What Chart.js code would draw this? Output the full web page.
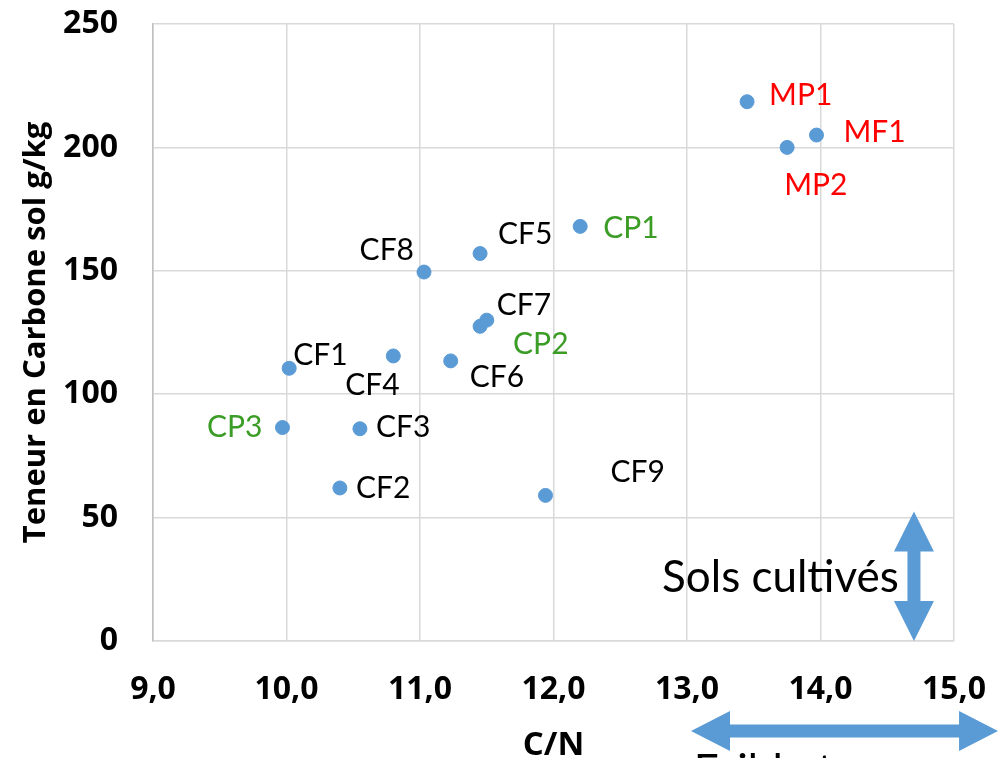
<!DOCTYPE html>
<html>
<head>
<meta charset="utf-8">
<script src="https://cdn.jsdelivr.net/npm/chart.js@4"></script>
<style>
    html, body { margin: 0; padding: 0; background: #fff; }
    #wrap { width: 998px; height: 758px; }
</style>
</head>
<body>
<div id="wrap"><canvas id="chart" width="998" height="758"></canvas></div>
<script>
// sample names, C/N ratio and soil carbon (g/kg)
const names = ["MP1", "MF1", "MP2", "CP1", "CF5", "CF8", "CF7", "CP2", "CF4", "CF6", "CF1", "CP3", "CF3", "CF2", "CF9"];
const cnValues = [13.45, 13.97, 13.75, 12.20, 11.45, 11.03, 11.50, 11.45, 10.80, 11.23, 10.02, 9.97, 10.55, 10.40, 11.94];
const carbonValues = [218.5, 205, 200, 168, 157, 149.5, 130, 127.5, 115.5, 113.5, 110.5, 86.5, 86, 62, 59];
const groups = ["M", "M", "M", "CP", "CF", "CF", "CF", "CP", "CF", "CF", "CF", "CP", "CF", "CF", "CF"];

const xTicks = [9, 10, 11, 12, 13, 14, 15];
const yTicks = [0, 50, 100, 150, 200, 250];

const xTitle = "C/N";
const yTitle = "Teneur en Carbone sol g/kg";
const verticalNote = "Sols cultivés";
const horizontalNote = "Faible teneur en carbone";

// colours of the labels per group
const groupColors = { M: "#ff0000", CP: "#3b9c26", CF: "#000000" };
const pointColor = "#5b9bd5";
const gridColor = "#d9d9d9";

// where each label sits relative to its point (px), and its alignment
const labelOffsets = {
    MP1: [22, -6, "left"], MF1: [27, -3, "left"], MP2: [-3, 38, "left"],
    CP1: [23, 2, "left"], CF5: [18, -19, "left"], CF8: [-10, -22, "right"],
    CF7: [10, -15, "left"], CP2: [33, 18, "left"], CF4: [-48, 29, "left"],
    CF6: [19, 16, "left"], CF1: [4, -13, "left"], CP3: [-20, 0, "right"],
    CF3: [16, -1, "left"], CF2: [16, 0, "left"], CF9: [65, -23, "left"]
};

const points = cnValues.map((x, i) => ({ x: x, y: carbonValues[i] }));
const labelFont = "Lato, 'Open Sans', sans-serif";
const axisFont = "'Open Sans', Lato, sans-serif";

// point labels and the two blue arrows
const annotations = {
    id: "annotations",
    afterDatasetsDraw(chart) {
        const ctx = chart.ctx;
        const xs = chart.scales.x;
        const ys = chart.scales.y;
        const meta = chart.getDatasetMeta(0);
        ctx.save();
        ctx.font = "30px " + labelFont;
        ctx.textBaseline = "middle";
        meta.data.forEach((pt, i) => {
            const off = labelOffsets[names[i]];
            ctx.fillStyle = groupColors[groups[i]];
            ctx.textAlign = off[2];
            ctx.fillText(names[i], pt.x + off[0], pt.y + off[1]);
        });

        ctx.fillStyle = pointColor;
        // vertical double arrow (cultivated soils range)
        const vx = xs.getPixelForValue(14.7);
        const vTop = ys.getPixelForValue(52.5);
        const vBot = ys.getPixelForValue(0);
        drawArrow(ctx, vx, vTop, vx, vBot, 13, 40, 40);

        // horizontal double arrow below the axis
        const hy = chart.chartArea.bottom + 90;
        drawArrow(ctx, xs.getPixelForValue(13.03), hy, xs.getPixelForValue(15.33), hy, 13, 40, 39);

        ctx.fillStyle = "#000";
        ctx.font = "44px " + labelFont;
        ctx.textAlign = "center";
        ctx.fillText(verticalNote, xs.getPixelForValue(13.7), ys.getPixelForValue(25.5));
        ctx.textAlign = "left";
        ctx.textBaseline = "alphabetic";
        ctx.fillText(horizontalNote, xs.getPixelForValue(13.05), chart.chartArea.bottom + 145);
        ctx.restore();
    }
};

function drawArrow(ctx, x1, y1, x2, y2, shaft, headW, headL) {
    const len = Math.hypot(x2 - x1, y2 - y1);
    const ang = Math.atan2(y2 - y1, x2 - x1);
    ctx.save();
    ctx.translate(x1, y1);
    ctx.rotate(ang);
    ctx.beginPath();
    ctx.moveTo(0, 0);
    ctx.lineTo(headL, -headW / 2);
    ctx.lineTo(headL, -shaft / 2);
    ctx.lineTo(len - headL, -shaft / 2);
    ctx.lineTo(len - headL, -headW / 2);
    ctx.lineTo(len, 0);
    ctx.lineTo(len - headL, headW / 2);
    ctx.lineTo(len - headL, shaft / 2);
    ctx.lineTo(headL, shaft / 2);
    ctx.lineTo(headL, headW / 2);
    ctx.closePath();
    ctx.fill();
    ctx.restore();
}

const ctx = document.getElementById("chart").getContext("2d");
const chart = new Chart(ctx, {
    type: "scatter",
    data: {
        datasets: [{
            data: points,
            backgroundColor: pointColor,
            borderColor: pointColor,
            pointRadius: 7,
            pointHoverRadius: 7
        }]
    },
    options: {
        responsive: false,
        animation: false,
        layout: { padding: { top: 24, right: 44, bottom: 0, left: 0 } },
        plugins: { legend: { display: false }, tooltip: { enabled: false } },
        scales: {
            x: {
                type: "linear",
                min: 9,
                max: 15,
                afterBuildTicks: scale => { scale.ticks = xTicks.map(v => ({ value: v })); },
                afterFit: scale => {
                    scale.height = 117;
                    scale.paddingLeft = 0;
                    scale.paddingRight = 0;
                },
                grid: { color: gridColor, lineWidth: 1.5, drawTicks: false },
                border: { color: gridColor, width: 1.5 },
                ticks: {
                    padding: 30,
                    color: "#000",
                    font: { family: axisFont, size: 32, weight: "bold" },
                    callback: v => v.toFixed(1).replace(".", ",")
                },
                title: {
                    display: true,
                    text: xTitle,
                    color: "#000",
                    font: { family: axisFont, size: 33, weight: "bold" },
                    padding: { top: 0, bottom: -7 }
                }
            },
            y: {
                min: 0,
                max: 250,
                afterBuildTicks: scale => { scale.ticks = yTicks.map(v => ({ value: v })); },
                afterFit: scale => {
                    scale.width = 153;
                    scale.paddingTop = 0;
                    scale.paddingBottom = 0;
                },
                grid: { color: gridColor, lineWidth: 1.5, drawTicks: false },
                border: { color: "#bfbfbf", width: 1.5 },
                ticks: {
                    padding: 35,
                    color: "#000",
                    font: { family: axisFont, size: 32, weight: "bold" }
                },
                title: {
                    display: true,
                    text: yTitle,
                    color: "#000",
                    font: { family: axisFont, size: 31, weight: "bold" },
                    padding: { top: 18, bottom: 0 }
                }
            }
        }
    },
    plugins: [annotations]
});
</script>
</body>
</html>
